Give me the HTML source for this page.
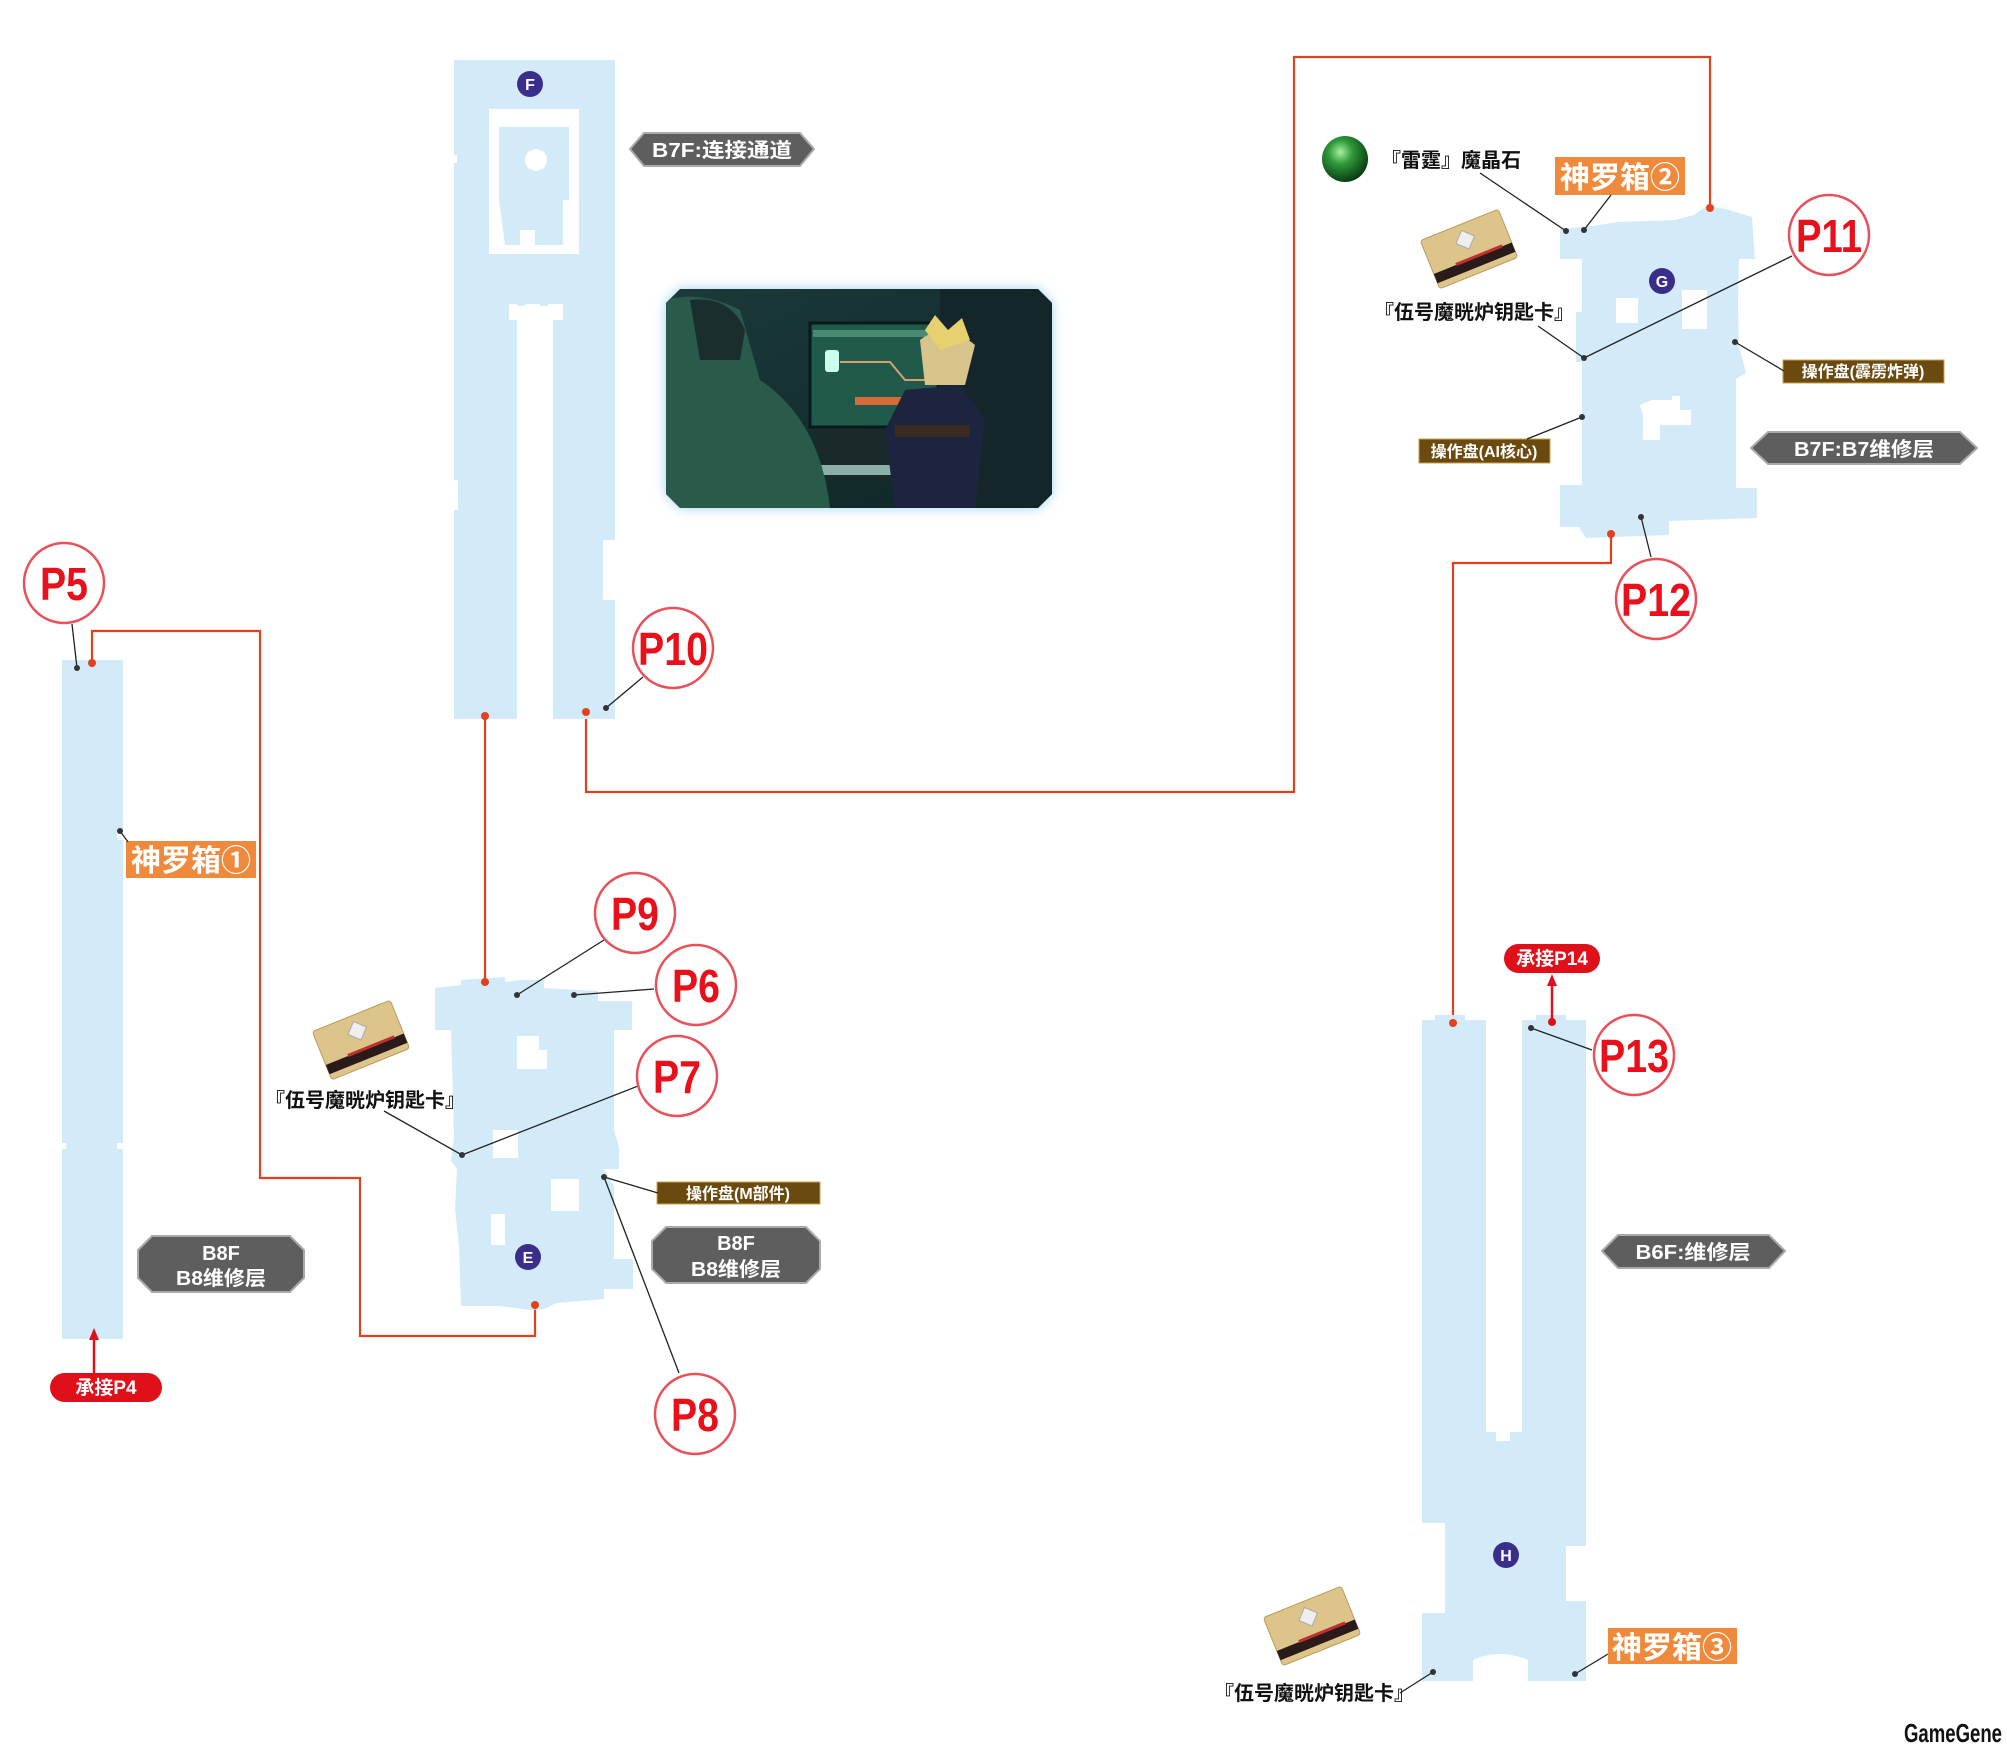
<!DOCTYPE html>
<html><head><meta charset="utf-8"><style>
html,body{margin:0;padding:0;background:#fff;}
svg{display:block;}
.cj{font-family:"Liberation Sans","Noto Sans CJK SC",sans-serif;font-weight:bold;}
.pn{font-family:"Liberation Sans",sans-serif;font-weight:bold;fill:#e8101a;}
</style></head><body>
<svg width="2007" height="1748" viewBox="0 0 2007 1748" xmlns="http://www.w3.org/2000/svg">
<defs>
<radialGradient id="orb" cx="40%" cy="35%" r="65%"><stop offset="0" stop-color="#a8f0a0"/><stop offset="0.4" stop-color="#2f9a3a"/><stop offset="1" stop-color="#0b3d14"/></radialGradient>
<linearGradient id="scr" x1="0" y1="0" x2="1" y2="1"><stop offset="0" stop-color="#1c3a3a"/><stop offset="1" stop-color="#0d2424"/></linearGradient>
<clipPath id="sc"><polygon points="680,289 1038,289 1052,303 1052,494 1038,508 680,508 666,494 666,303"/></clipPath>
<filter id="gl" x="-10%" y="-10%" width="120%" height="120%"><feGaussianBlur stdDeviation="6"/></filter>
<g id="card">
<rect x="-42" y="-26" width="84" height="52" rx="3" fill="#dcc48a" stroke="#b89c5c"/>
<rect x="-42" y="10" width="84" height="10" fill="#2a1a1a"/>
<rect x="-18" y="8" width="50" height="3" fill="#c03030"/>
<polygon points="0,-20 10,-10 0,0 -10,-10" fill="#eee" stroke="#aaa"/>
</g>
</defs>

<g fill="none" stroke="#e2401e" stroke-width="2.2">
<polyline points="92,663 92,631 260,631 260,1178 360,1178 360,1336 535,1336 535,1305"/>
<polyline points="485,716 485,982"/>
<polyline points="586,712 586,792 1294,792 1294,57 1710,57 1710,208"/>
<polyline points="1611,534 1611,563 1453,563 1453,1023"/>
</g>

<rect x="454" y="60" width="161" height="659" fill="#d3ebf8"/>
<g fill="#fff">
<rect x="517" y="304" width="36" height="420"/>
<rect x="509" y="304" width="54" height="16"/>
<rect x="489" y="109" width="90" height="145"/>
<rect x="448" y="155" width="9" height="8"/>
<rect x="603" y="540" width="14" height="60"/>
<rect x="450" y="480" width="8" height="30"/>
</g>
<g fill="#d3ebf8">
<rect x="517" y="298" width="8" height="8"/><rect x="540" y="298" width="8" height="8"/>
<rect x="499" y="127" width="70" height="73"/>
<path d="M499,200 H563 V245 H535 V230 H520 V245 H505 Z"/>
</g>
<circle cx="536" cy="160" r="11" fill="#fff"/>
<circle cx="530" cy="84" r="13" fill="#3a2e8a"/>
<text x="530" y="90" font-size="16" font-family="Liberation Sans" font-weight="bold" fill="#fff" text-anchor="middle">F</text>

<rect x="62" y="660" width="61" height="679" fill="#d3ebf8"/>
<rect x="58" y="1143" width="8" height="6" fill="#fff"/>
<rect x="117" y="1143" width="8" height="6" fill="#fff"/>
<rect x="117" y="830" width="8" height="10" fill="#fff"/>

<polygon fill="#d3ebf8" points="435,988 461,985 461,980 505,977 505,982 521,980 544,980 544,988 598,991 598,1001 632,1001 632,1030 614,1030 614,1130 619,1147 619,1169 604,1169 614,1186 614,1259 633,1259 633,1289 604,1289 604,1299 557,1303 544,1309 531,1310 499,1306 461,1306 459,1247 455,1208 457,1169 451,1161 454,1136 451,1030 435,1030"/>
<g fill="#fff">
<rect x="517" y="1036" width="22" height="33"/><rect x="535" y="1050" width="12" height="19"/>
<rect x="493" y="1130" width="25" height="28"/>
<rect x="551" y="1179" width="28" height="32"/>
<rect x="491" y="1214" width="14" height="31"/>
</g>
<circle cx="528" cy="1257" r="13" fill="#3a2e8a"/>
<text x="528" y="1263" font-size="16" font-family="Liberation Sans" font-weight="bold" fill="#fff" text-anchor="middle">E</text>

<polygon fill="#d3ebf8" points="1560,229 1560,259 1582,259 1582,312 1576,312 1576,362 1582,362 1582,485 1560,485 1560,527 1579,527 1586,538 1669,535 1669,521 1757,518 1757,488 1736,488 1736,379 1746,373 1739,346 1738,304 1739,259 1755,259 1752,217 1726,209 1707,206 1694,215 1675,220 1618,222 1592,226"/>
<g fill="#fff">
<rect x="1616" y="298" width="22" height="25"/>
<rect x="1682" y="290" width="25" height="39"/>
<polygon points="1652,400 1672,400 1672,396 1680,396 1680,410 1691,410 1691,425 1660,425 1660,440 1643,440 1643,415 1640,405"/>
</g>
<circle cx="1662" cy="281" r="13" fill="#3a2e8a"/>
<text x="1662" y="287" font-size="16" font-family="Liberation Sans" font-weight="bold" fill="#fff" text-anchor="middle">G</text>

<path fill="#d3ebf8" d="M1422,1020 H1486 V1441 H1522 V1020 H1586 V1546 H1566 V1601 H1586 V1681 H1528 V1660 Q1500,1648 1473,1660 V1681 H1422 V1613 H1445 V1523 H1422 Z"/>
<rect x="1435" y="1015" width="30" height="6" fill="#d3ebf8"/>
<rect x="1536" y="1015" width="30" height="6" fill="#d3ebf8"/>
<rect x="1486" y="1432" width="10" height="10" fill="#d3ebf8"/><rect x="1510" y="1432" width="12" height="10" fill="#d3ebf8"/>
<circle cx="1506" cy="1555" r="13" fill="#3a2e8a"/>
<text x="1506" y="1561" font-size="16" font-family="Liberation Sans" font-weight="bold" fill="#fff" text-anchor="middle">H</text>

<polygon points="680,289 1038,289 1052,303 1052,494 1038,508 680,508 666,494 666,303" fill="#9fd3f0" filter="url(#gl)"/>
<g clip-path="url(#sc)">
<rect x="666" y="289" width="386" height="219" fill="url(#scr)"/>
<rect x="940" y="289" width="112" height="219" fill="#14262a"/>
<rect x="810" y="323" width="128" height="104" fill="#1f5a4a" stroke="#0a1a1a" stroke-width="3"/>
<rect x="813" y="330" width="120" height="7" fill="#4a8a74"/>
<rect x="825" y="350" width="14" height="22" fill="#cfe" rx="3"/>
<polyline points="840,362 890,362 905,380 925,380" fill="none" stroke="#d8a070" stroke-width="2"/>
<rect x="855" y="397" width="50" height="8" fill="#d86a3a"/>
<rect x="815" y="430" width="120" height="50" fill="#1a2a2a"/>
<rect x="820" y="465" width="110" height="10" fill="#8ab0a8"/>
<path d="M666,300 Q700,290 740,310 L760,380 Q820,420 830,508 L666,508 Z" fill="#2a5a4a"/>
<path d="M690,300 Q730,295 745,330 L740,360 L700,360 Z" fill="#1a2e2e"/>
<path d="M905,390 L960,385 L985,420 L975,508 L895,508 L885,430 Z" fill="#1c2440"/>
<path d="M920,340 Q945,320 975,345 L965,385 L925,385 Z" fill="#d8c38a"/>
<path d="M925,330 L935,315 L948,330 L962,318 L970,340 L940,350 Z" fill="#e6d070"/>
<rect x="895" y="425" width="75" height="12" fill="#3a2a22"/>
</g>

<g font-size="20" class="cj" fill="#fff">
<polygon points="630,149 644,133 800,133 814,149 800,166 644,166" fill="#5e5e5e" stroke="#aaa" stroke-width="2"/>
<text x="722" y="157" text-anchor="middle" fill="#fff" textLength="140" lengthAdjust="spacingAndGlyphs">B7F:连接通道</text>
<polygon points="1751,448 1768,432 1960,432 1977,448 1960,464 1768,464" fill="#5e5e5e" stroke="#aaa" stroke-width="2"/>
<text x="1864" y="456" text-anchor="middle" fill="#fff" textLength="140" lengthAdjust="spacingAndGlyphs">B7F:B7维修层</text>
<polygon points="1602,1251 1618,1235 1769,1235 1785,1251 1769,1268 1618,1268" fill="#5e5e5e" stroke="#aaa" stroke-width="2"/>
<text x="1693" y="1259" text-anchor="middle" fill="#fff" textLength="115" lengthAdjust="spacingAndGlyphs">B6F:维修层</text>
<polygon points="138,1250 152,1236 290,1236 304,1250 304,1278 290,1292 152,1292 138,1278" fill="#5e5e5e" stroke="#aaa" stroke-width="2"/>
<text x="221" y="1260" text-anchor="middle" fill="#fff">B8F</text>
<text x="221" y="1285" text-anchor="middle" fill="#fff" textLength="90" lengthAdjust="spacingAndGlyphs">B8维修层</text>
<polygon points="652,1241 666,1227 806,1227 820,1241 820,1269 806,1283 666,1283 652,1269" fill="#5e5e5e" stroke="#aaa" stroke-width="2"/>
<text x="736" y="1250" text-anchor="middle" fill="#fff">B8F</text>
<text x="736" y="1276" text-anchor="middle" fill="#fff" textLength="90" lengthAdjust="spacingAndGlyphs">B8维修层</text>
</g>

<g class="cj" font-size="16" fill="#fff">
<rect x="1783" y="360" width="161" height="23" fill="#6b4a10" stroke="#c9a24a"/>
<text x="1863" y="377" text-anchor="middle">操作盘(霹雳炸弹)</text>
<rect x="1419" y="439" width="131" height="24" fill="#6b4a10" stroke="#c9a24a"/>
<text x="1484" y="457" text-anchor="middle">操作盘(AI核心)</text>
<rect x="657" y="1182" width="163" height="22" fill="#6b4a10" stroke="#c9a24a"/>
<text x="738" y="1199" text-anchor="middle">操作盘(M部件)</text>
</g>

<g class="cj" font-size="30" fill="#fff">
<rect x="126" y="841" width="130" height="37" fill="#ef8a3c"/>
<text x="191" y="871" text-anchor="middle">神罗箱①</text>
<rect x="1555" y="157" width="130" height="38" fill="#ef8a3c"/>
<text x="1620" y="188" text-anchor="middle">神罗箱②</text>
<rect x="1608" y="1628" width="129" height="36" fill="#ef8a3c"/>
<text x="1672" y="1658" text-anchor="middle">神罗箱③</text>
</g>

<circle cx="1345" cy="159" r="23" fill="url(#orb)"/>
<g class="cj" font-size="20" fill="#111">
<text x="1381" y="167">『雷霆』魔晶石</text>
<text x="1374" y="319">『伍号魔晄炉钥匙卡』</text>
<text x="265" y="1107">『伍号魔晄炉钥匙卡』</text>
<text x="1214" y="1700">『伍号魔晄炉钥匙卡』</text>
</g>
<use href="#card" transform="translate(1469,249) rotate(-22)"/>
<use href="#card" transform="translate(361,1040) rotate(-22)"/>
<use href="#card" transform="translate(1312,1626) rotate(-22)"/>

<g stroke="#222" stroke-width="1.3" fill="none">
<line x1="72" y1="624" x2="77" y2="668"/>
<line x1="120" y1="831" x2="128" y2="842"/>
<line x1="643" y1="677" x2="606" y2="708"/>
<line x1="1480" y1="173" x2="1566" y2="231"/>
<line x1="1611" y1="195" x2="1584" y2="230"/>
<line x1="1538" y1="326" x2="1584" y2="358"/>
<line x1="1792" y1="256" x2="1584" y2="358"/>
<line x1="1735" y1="342" x2="1784" y2="371"/>
<line x1="1527" y1="439" x2="1582" y2="417"/>
<line x1="1641" y1="517" x2="1651" y2="557"/>
<line x1="604" y1="940" x2="517" y2="995"/>
<line x1="654" y1="989" x2="574" y2="995"/>
<line x1="638" y1="1086" x2="462" y2="1155"/>
<line x1="384" y1="1111" x2="462" y2="1155"/>
<line x1="604" y1="1177" x2="658" y2="1193"/>
<line x1="604" y1="1177" x2="679" y2="1373"/>
<line x1="1592" y1="1050" x2="1531" y2="1028"/>
<line x1="1433" y1="1672" x2="1400" y2="1693"/>
<line x1="1575" y1="1674" x2="1608" y2="1654"/>
</g>
<g fill="#333">
<circle cx="77" cy="668" r="3"/><circle cx="120" cy="831" r="3"/><circle cx="606" cy="708" r="3"/>
<circle cx="1566" cy="231" r="3"/><circle cx="1584" cy="230" r="3"/><circle cx="1584" cy="358" r="3"/>
<circle cx="1735" cy="342" r="3"/><circle cx="1582" cy="417" r="3"/><circle cx="1641" cy="517" r="3"/>
<circle cx="517" cy="995" r="3"/><circle cx="574" cy="995" r="3"/><circle cx="462" cy="1155" r="3"/>
<circle cx="604" cy="1177" r="3"/><circle cx="1531" cy="1028" r="3"/><circle cx="1433" cy="1672" r="3"/><circle cx="1575" cy="1674" r="3"/>
</g>
<g fill="#e2401e">
<circle cx="92" cy="663" r="4"/><circle cx="535" cy="1305" r="4"/><circle cx="485" cy="716" r="4"/><circle cx="485" cy="982" r="4"/>
<circle cx="586" cy="712" r="4"/><circle cx="1710" cy="208" r="4"/><circle cx="1611" cy="534" r="4"/><circle cx="1453" cy="1023" r="4"/>
</g>

<g fill="#fff" stroke="#e8505a" stroke-width="2.5">
<circle cx="64" cy="583" r="40"/><circle cx="673" cy="648" r="40"/><circle cx="1829" cy="235" r="40"/>
<circle cx="1656" cy="599" r="40"/><circle cx="635" cy="913" r="40"/><circle cx="696" cy="985" r="40"/>
<circle cx="677" cy="1076" r="40"/><circle cx="695" cy="1414" r="40"/><circle cx="1634" cy="1055" r="40"/>
</g>
<g class="pn" font-size="46" text-anchor="middle">
<text x="64" y="600" textLength="48" lengthAdjust="spacingAndGlyphs">P5</text>
<text x="673" y="665" textLength="70" lengthAdjust="spacingAndGlyphs">P10</text>
<text x="1829" y="252" textLength="66" lengthAdjust="spacingAndGlyphs">P11</text>
<text x="1656" y="616" textLength="70" lengthAdjust="spacingAndGlyphs">P12</text>
<text x="635" y="930" textLength="48" lengthAdjust="spacingAndGlyphs">P9</text>
<text x="696" y="1002" textLength="48" lengthAdjust="spacingAndGlyphs">P6</text>
<text x="677" y="1093" textLength="48" lengthAdjust="spacingAndGlyphs">P7</text>
<text x="695" y="1431" textLength="48" lengthAdjust="spacingAndGlyphs">P8</text>
<text x="1634" y="1072" textLength="70" lengthAdjust="spacingAndGlyphs">P13</text>
</g>

<g stroke="#e0101a" stroke-width="2.5" fill="#e0101a">
<line x1="94" y1="1373" x2="94" y2="1336"/><polygon points="94,1328 89,1340 99,1340" stroke="none"/>
<line x1="1552" y1="1022" x2="1552" y2="982"/><polygon points="1552,974 1547,986 1557,986" stroke="none"/>
</g>
<circle cx="1552" cy="1022" r="4" fill="#e0101a"/>
<rect x="50" y="1373" width="112" height="29" rx="14.5" fill="#e0101a"/>
<rect x="1504" y="944" width="96" height="29" rx="14.5" fill="#e0101a"/>
<g class="cj" font-size="19" fill="#fff" text-anchor="middle">
<text x="106" y="1394">承接P4</text><text x="1552" y="965">承接P14</text>
</g>

<text x="2002" y="1742" text-anchor="end" font-family="Liberation Sans,sans-serif" font-weight="bold" font-size="26" fill="#111" textLength="98" lengthAdjust="spacingAndGlyphs">GameGene</text>
</svg>
</body></html>
